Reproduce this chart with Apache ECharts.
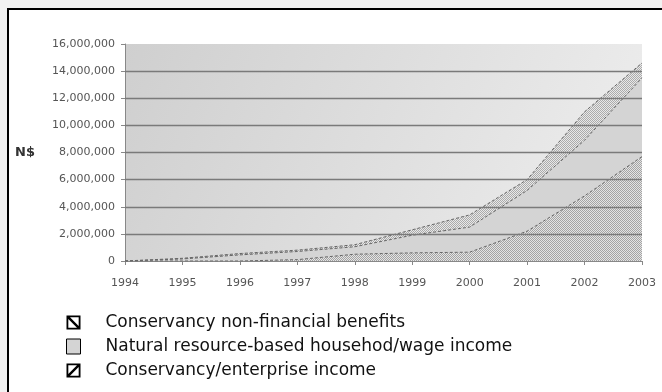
<!DOCTYPE html>
<html>
<head>
<meta charset="utf-8">
<script src="https://cdn.jsdelivr.net/npm/echarts@6/dist/echarts.min.js"></script>
<style>
  html, body { margin: 0; padding: 0; background: #f2f2f2; }
  #chart { width: 662px; height: 392px; }
</style>
</head>
<body>
<div id="chart"></div>
<script>
// years on the x axis
const years = ['1994', '1995', '1996', '1997', '1998', '1999', '2000', '2001', '2002', '2003']
// stacked values in N$, bottom to top
const enterpriseIncome = [0, 0, 0, 100000, 500000, 600000, 650000, 2200000, 4800000, 7700000]
const householdIncome = [0, 150000, 450000, 600000, 550000, 1300000, 1850000, 3000000, 4100000, 5800000]
const nonFinancial = [0, 50000, 100000, 100000, 150000, 400000, 900000, 800000, 2100000, 1100000]
// horizontal grid lines
const gridValues = [2000000, 4000000, 6000000, 8000000, 10000000, 12000000, 14000000]

const names = {
  nonFin: 'Conservancy non-financial benefits',
  house: 'Natural resource-based househod/wage income',
  ent: 'Conservancy/enterprise income',
}

// small dotted fill like the old excel pattern
function dots(dark, light) {
  const c = document.createElement('canvas')
  c.width = 2
  c.height = 2
  const ctx = c.getContext('2d')
  ctx.fillStyle = light
  ctx.fillRect(0, 0, 2, 2)
  ctx.fillStyle = dark
  ctx.fillRect(0, 0, 1, 1)
  ctx.fillRect(1, 1, 1, 1)
  return { image: c, repeat: 'repeat' }
}

// box icons with a diagonal
const iconBack = 'path://M0,0L10,0L10,10L0,10Z M1.3,1.3L1.3,8.7L8.7,8.7L8.7,1.3Z M1.3,1.3L2.5,1.3L8.7,7.5L8.7,8.7L7.5,8.7L1.3,2.5Z'
const iconFwd = 'path://M0,0L10,0L10,10L0,10Z M1.3,1.3L1.3,8.7L8.7,8.7L8.7,1.3Z M8.7,1.3L8.7,2.5L2.5,8.7L1.3,8.7L1.3,7.5L7.5,1.3Z'

const edge = { color: '#666', width: 1, type: [3, 2] }

const chart = echarts.init(document.getElementById('chart'))

const option = {
  backgroundColor: '#f2f2f2',
  animation: false,
  textStyle: { fontFamily: 'DejaVu Sans' },
  graphic: [
    {
      type: 'rect',
      z: -100,
      shape: { x: 8, y: 9, width: 720, height: 420 },
      style: { fill: '#fff', stroke: '#000', lineWidth: 2 },
    },
  ],
  grid: {
    left: 125,
    right: 20,
    top: 44,
    bottom: 131,
    show: true,
    borderWidth: 0,
    backgroundColor: new echarts.graphic.LinearGradient(0, 0, 1, 1, [
      { offset: 0, color: '#cfcfcf' },
      { offset: 1, color: '#efefef' },
    ]),
  },
  legend: {
    orient: 'vertical',
    left: 66,
    top: 314,
    padding: 0,
    itemWidth: 14,
    itemHeight: 15,
    itemGap: 7,
    selectedMode: false,
    lineStyle: { width: 0, opacity: 0 },
    textStyle: {
      fontFamily: 'DejaVu Sans',
      fontSize: 17,
      lineHeight: 15,
      color: '#111',
      padding: [0, 0, 0, 20],
    },
    data: [
      { name: names.nonFin, icon: iconBack, itemStyle: { color: '#000', borderWidth: 0 } },
      { name: names.house, icon: 'rect', itemStyle: { color: '#d4d4d4', borderColor: '#000', borderWidth: 1 } },
      { name: names.ent, icon: iconFwd, itemStyle: { color: '#000', borderWidth: 0 } },
    ],
  },
  xAxis: {
    type: 'category',
    data: years,
    boundaryGap: false,
    axisLine: { lineStyle: { color: '#888', width: 1 } },
    axisTick: { show: true, length: 4, lineStyle: { color: '#888' } },
    axisLabel: { color: '#555', fontSize: 11, margin: 17 },
  },
  yAxis: {
    type: 'value',
    min: 0,
    max: 16000000,
    interval: 2000000,
    name: 'N$',
    nameLocation: 'middle',
    nameRotate: 0,
    nameGap: 90,
    nameTextStyle: { fontWeight: 'bold', fontSize: 13, color: '#333' },
    axisLine: { show: true, lineStyle: { color: '#888', width: 1 } },
    axisTick: { show: true, length: 4, lineStyle: { color: '#888' } },
    splitLine: { show: false },
    axisLabel: {
      color: '#555',
      fontSize: 11,
      margin: 10,
      formatter: (v) => v.toLocaleString('en-US'),
    },
  },
  series: [
    {
      // grid lines, kept behind the areas
      type: 'line',
      z: 1,
      data: [],
      silent: true,
      markLine: {
        silent: true,
        symbol: 'none',
        label: { show: false },
        lineStyle: { color: '#7a7a7a', width: 1.3, type: 'solid' },
        data: gridValues.map((v) => ({ yAxis: v })),
      },
    },
    {
      name: names.ent,
      type: 'line',
      stack: 'total',
      z: 3,
      symbol: 'none',
      data: enterpriseIncome,
      lineStyle: edge,
      itemStyle: { color: '#aaa' },
      areaStyle: { color: dots('#a4a4a4', '#e4e4e4'), opacity: 1 },
    },
    {
      name: names.house,
      type: 'line',
      stack: 'total',
      z: 3,
      symbol: 'none',
      data: householdIncome,
      lineStyle: edge,
      itemStyle: { color: '#d4d4d4' },
      areaStyle: { color: '#d4d4d4', opacity: 1 },
    },
    {
      name: names.nonFin,
      type: 'line',
      stack: 'total',
      z: 3,
      symbol: 'none',
      data: nonFinancial,
      lineStyle: edge,
      itemStyle: { color: '#bbb' },
      areaStyle: { color: dots('#ababab', '#e8e8e8'), opacity: 1 },
    },
  ],
}

chart.setOption(option)
</script>
</body>
</html>
